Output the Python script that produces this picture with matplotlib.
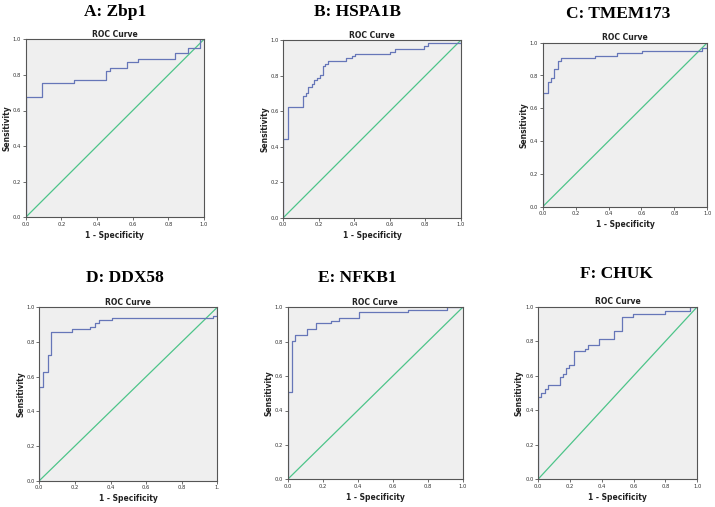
import matplotlib.pyplot as plt

# Panel titles (gene names)
titles = ['A: Zbp1', 'B: HSPA1B', 'C: TMEM173', 'D: DDX58', 'E: NFKB1', 'F: CHUK']

# ROC points (1 - specificity, sensitivity)
fpr_a = [0, 0, 0.09, 0.27, 0.45, 0.47, 0.566, 0.63, 0.84, 0.91, 0.978, 1.0]
tpr_a = [0, 0.674, 0.757, 0.773, 0.824, 0.84, 0.874, 0.888, 0.925, 0.953, 1.0, 1.0]

fpr_b = [0, 0, 0.024, 0.113, 0.128, 0.137, 0.16, 0.173, 0.188, 0.207, 0.224, 0.235, 0.25,
         0.353, 0.385, 0.404, 0.6, 0.63, 0.793, 0.818, 1.0]
tpr_b = [0, 0.442, 0.626, 0.688, 0.705, 0.739, 0.752, 0.776, 0.79, 0.805, 0.853, 0.867, 0.885,
         0.898, 0.91, 0.925, 0.936, 0.949, 0.97, 0.985, 1.0]

fpr_c = [0, 0, 0.03, 0.049, 0.069, 0.091, 0.111, 0.318, 0.449, 0.601, 0.966, 1.0]
tpr_c = [0, 0.691, 0.758, 0.787, 0.839, 0.888, 0.904, 0.919, 0.935, 0.951, 0.967, 1.0]

fpr_d = [0, 0, 0.022, 0.047, 0.066, 0.182, 0.285, 0.313, 0.335, 0.41, 0.978, 1.0]
tpr_d = [0, 0.54, 0.625, 0.723, 0.856, 0.873, 0.885, 0.908, 0.927, 0.94, 0.952, 1.0]

fpr_e = [0, 0, 0.023, 0.042, 0.112, 0.162, 0.246, 0.293, 0.408, 0.69, 0.909, 1.0]
tpr_e = [0, 0.51, 0.806, 0.839, 0.872, 0.907, 0.922, 0.938, 0.971, 0.984, 1.0, 1.0]

fpr_f = [0, 0, 0.021, 0.046, 0.065, 0.138, 0.155, 0.174, 0.195, 0.226, 0.295, 0.316,
         0.383, 0.477, 0.525, 0.598, 0.797, 0.954, 1.0]
tpr_f = [0, 0.479, 0.498, 0.521, 0.544, 0.595, 0.61, 0.643, 0.662, 0.743, 0.757, 0.776,
         0.811, 0.861, 0.942, 0.958, 0.977, 0.996, 1.0]

tick_vals = [0.0, 0.2, 0.4, 0.6, 0.8, 1.0]
tick_labels = ['0.0', '0.2', '0.4', '0.6', '0.8', '1.0']
tick_labels_d = ['0.0', '0.2', '0.4', '0.6', '0.8', '1.']

curves = [(fpr_a, tpr_a), (fpr_b, tpr_b), (fpr_c, tpr_c),
          (fpr_d, tpr_d), (fpr_e, tpr_e), (fpr_f, tpr_f)]

W, H = 715, 507
# axes boxes in pixels: left, right, top, bottom
boxes = [(25.7, 204, 39.3, 217.3), (283.3, 460.7, 40.3, 217.7), (542.7, 707.3, 42.7, 206.7),
         (39.3, 217.3, 307.3, 480.7), (287.7, 462.7, 307.3, 479.3), (538, 697.3, 306.7, 479.3)]
title_pos = [(115, 12), (357, 12), (618, 14), (125, 278), (357, 278), (616, 274)]

fig = plt.figure(figsize=(W / 100, H / 100), dpi=100)
fig.patch.set_facecolor('white')

for i, ((fpr, tpr), (l, r, t, b)) in enumerate(zip(curves, boxes)):
    w_px, h_px = r - l, b - t
    ax = fig.add_axes([l / W, (H - b) / H, w_px / W, h_px / H])
    ax.set_facecolor('#EFEFEF')
    ax.plot([0, 1], [0, 1], color='#4DC489', linewidth=0.9)
    ax.step(fpr, tpr, where='post', color='#6676B8', linewidth=0.9)
    ax.set_xlim(0, 1)
    ax.set_ylim(0, 1)
    ax.set_xticks(tick_vals)
    ax.set_yticks(tick_vals)
    ax.set_xticklabels(tick_labels_d if i == 3 else tick_labels, fontsize=3.8, color='#333333')
    ax.set_yticklabels(tick_labels, fontsize=3.8, color='#333333')
    ax.tick_params(length=2, width=0.6, pad=1.2, color='#555555')
    for s in ax.spines.values():
        s.set_color('#555555')
        s.set_linewidth(0.8)
    ax.set_title('ROC Curve', fontsize=5.5, fontweight='bold', pad=2, color='#222222')
    ax.set_xlabel('1 - Specificity', fontsize=5.5, fontweight='bold', color='#222222')
    ax.set_ylabel('Sensitivity', fontsize=5.5, fontweight='bold', color='#222222')
    ax.xaxis.set_label_coords(0.5, -13.5 / h_px)
    ax.yaxis.set_label_coords(-14 / w_px, 0.5)

    x, y = title_pos[i]
    fig.text(x / W, 1 - y / H, titles[i], ha='center', va='center', fontsize=12.5,
             fontweight='bold', family=['Liberation Serif', 'DejaVu Serif'])

fig.savefig('out.png', dpi=100)
